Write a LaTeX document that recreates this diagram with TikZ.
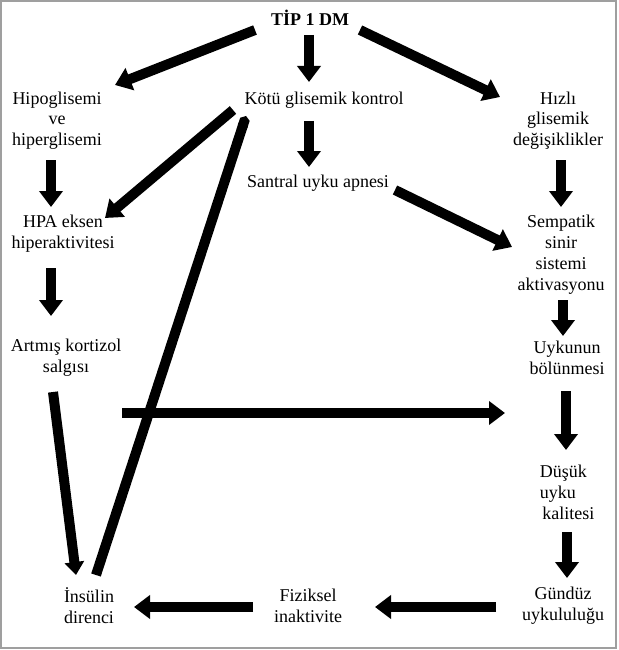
\documentclass[tikz,border=0pt]{standalone}
\usepackage{fontspec}
\setmainfont{Liberation Serif}
\usetikzlibrary{arrows.meta}
\begin{document}
\begin{tikzpicture}[x=1pt,y=-1pt,
  lbl/.style={inner sep=0pt,align=center,font=\fontsize{18}{20.8}\selectfont},
  lbll/.style={inner sep=0pt,align=left,font=\fontsize{18}{20.8}\selectfont},
  arr/.style={line width=10pt,-{Triangle[width=23pt,length=16pt]}},
  bar/.style={line width=10pt,-{Triangle Cap[cap angle=110]}}]
\useasboundingbox (0,0) rectangle (618,650);
\draw[gray!75,line width=2pt] (1,1) rectangle (616,648);
% nodes
\node[lbl,font=\fontsize{18}{20.8}\selectfont\bfseries] (tip) at (310,18) {TİP 1 DM};
\node[lbl] (hipo) at (57,120.5) {Hipoglisemi\\ve\\hiperglisemi};
\node[lbl] (kotu) at (324,100) {Kötü glisemik kontrol};
\node[lbl] (hizli) at (558,120.5) {Hızlı\\glisemik\\değişiklikler};
\node[lbl] (santral) at (318,183) {Santral uyku apnesi};
\node[lbl] (hpa) at (63,233.5) {HPA eksen\\hiperaktivitesi};
\node[lbl] (sempatik) at (561,254.5) {Sempatik\\sinir\\sistemi\\aktivasyonu};
\node[lbl] (artmis) at (66,357.5) {Artmış kortizol\\salgısı};
\node[lbl] (uykunun) at (567,357.5) {Uykunun\\bölünmesi};
\node[lbll] (dusuk) at (567,492.5) {Düşük\\uyku\\\hspace{2.5pt}kalitesi};
\node[lbl] (gunduz) at (563,606) {Gündüz\\uykululuğu};
\node[lbl] (fiziksel) at (308,606) {Fiziksel\\inaktivite};
\node[lbl] (insulin) at (89,606) {İnsülin\\direnci};
\coordinate (h1) at (122,413);
\coordinate (h2) at (505,413);
% connectors
\draw[arr] ([shift={(-55,12)}]tip.center) -- ([shift={(58,-35.5)}]hipo.center);
\draw[arr] ([shift={(-1,17)}]tip.center) -- ([shift={(-15,-18)}]kotu.center);
\draw[arr] ([shift={(50,12)}]tip.center) -- ([shift={(-58,-23.5)}]hizli.center);
\draw[arr] ([shift={(-15,21)}]kotu.center) -- ([shift={(-9,-16)}]santral.center);
\draw[arr] ([shift={(-6,39.5)}]hipo.center) -- ([shift={(-12,-26.5)}]hpa.center);
\draw[arr] ([shift={(3,39.5)}]hizli.center) -- ([shift={(0,-47.5)}]sempatik.center);
\draw[arr] ([shift={(-91,10)}]kotu.center) -- ([shift={(42,-15.5)}]hpa.center);
\draw[arr] ([shift={(77,7)}]santral.center) -- ([shift={(-49,-7.5)}]sempatik.center);
\draw[arr] ([shift={(-12,34.5)}]hpa.center) -- ([shift={(-15,-41.5)}]artmis.center);
\draw[arr] ([shift={(2,45.5)}]sempatik.center) -- ([shift={(-4,-21.5)}]uykunun.center);
\draw[arr,-{Triangle[width=19pt,length=13pt]}] ([shift={(-13,34.5)}]artmis.center) -- ([shift={(-13,-31)}]insulin.center);
\draw[arr] (h1) -- (h2);
\draw[arr] ([shift={(-1,33.5)}]uykunun.center) -- ([shift={(-1,-42.5)}]dusuk.center);
\draw[arr] ([shift={(0,39.5)}]dusuk.center) -- ([shift={(4,-28)}]gunduz.center);
\draw[arr] ([shift={(-67,1)}]gunduz.center) -- ([shift={(67,1)}]fiziksel.center);
\draw[arr] ([shift={(-55,1)}]fiziksel.center) -- ([shift={(45,1)}]insulin.center);
\draw[bar] ([shift={(7,-31)}]insulin.center) -- ([shift={(-78,16)}]kotu.center);
\end{tikzpicture}
\end{document}
